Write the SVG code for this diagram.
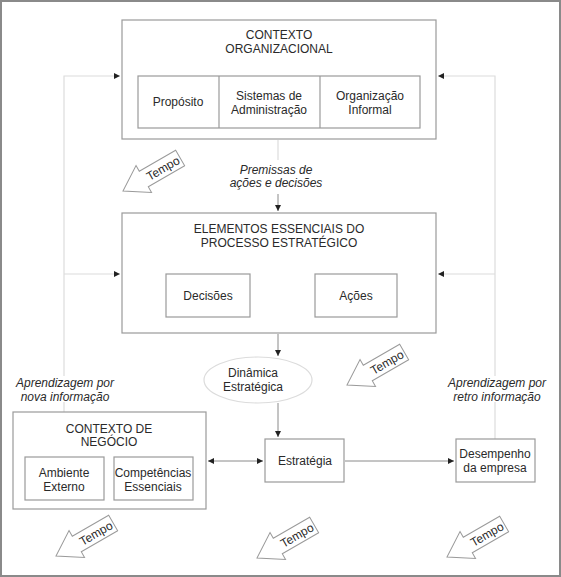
<svg xmlns="http://www.w3.org/2000/svg" width="561" height="577" viewBox="0 0 561 577">
<style>
text{font-family:"Liberation Sans",Arial,sans-serif;font-size:12px;fill:#2a2a2a;text-anchor:middle}
.it{font-style:italic}
.box{fill:#fff;stroke:#9a9a9a;stroke-width:1.2}
.fb{fill:none;stroke:#dcdcdc;stroke-width:1.2}
.cn{fill:none;stroke:#8a8a8a;stroke-width:1}
.tp{fill:#fff;stroke:#9a9a9a;stroke-width:1}
.tt{font-size:12px}
</style>
<defs>
<marker id="ah" markerUnits="userSpaceOnUse" markerWidth="6" markerHeight="6" refX="6" refY="3" orient="auto-start-reverse">
<path d="M0,0 L6,3 L0,6 z" fill="#222"/>
</marker>
<g id="tempo">
<polygon class="tp" points="0,0 24,-15.5 24,-9 66,-9 66,9 24,9 24,15.5"/>
<text class="tt" x="46" y="4.5">Tempo</text>
</g>
</defs>
<rect x="1" y="1" width="559" height="575" fill="#fff" stroke="#8a8a8a" stroke-width="2"/>

<g id="connectors">
<polyline class="fb" points="64,376 64,76 120,76" marker-end="url(#ah)"/>
<line class="fb" x1="64" y1="274" x2="120" y2="274" marker-end="url(#ah)"/>
<line class="fb" x1="64" y1="402" x2="64" y2="412"/>
<polyline class="fb" points="495,376 495,76 438,76" marker-end="url(#ah)"/>
<line class="fb" x1="495" y1="274" x2="438" y2="274" marker-end="url(#ah)"/>
<line class="fb" x1="495" y1="402" x2="495" y2="439"/>
<line class="fb" x1="278" y1="140" x2="278" y2="160"/>
<line class="cn" x1="278" y1="194" x2="278" y2="211" marker-end="url(#ah)"/>
<line class="cn" x1="252" y1="296" x2="313" y2="296" marker-start="url(#ah)" marker-end="url(#ah)"/>
<line class="cn" x1="278" y1="334" x2="278" y2="356" marker-end="url(#ah)"/>
<line class="cn" x1="278" y1="403" x2="278" y2="437" marker-end="url(#ah)"/>
<line class="cn" x1="208" y1="461" x2="263" y2="461" marker-start="url(#ah)" marker-end="url(#ah)"/>
<line class="cn" x1="345" y1="461" x2="454" y2="461" marker-end="url(#ah)"/>
</g>

<g id="contexto-organizacional">
<rect class="box" x="122" y="20" width="314" height="119"/>
<text x="279" y="39">CONTEXTO</text>
<text x="279" y="53">ORGANIZACIONAL</text>
<rect class="box" x="138" y="76" width="282" height="52"/>
<line class="box" x1="219" y1="76" x2="219" y2="128"/>
<line class="box" x1="320" y1="76" x2="320" y2="128"/>
<text x="178" y="106">Propósito</text>
<text x="269" y="100">Sistemas de</text>
<text x="269" y="114">Administração</text>
<text x="370" y="100">Organização</text>
<text x="370" y="114">Informal</text>
</g>

<g id="premissas">
<text class="it" x="276" y="174">Premissas de</text>
<text class="it" x="276" y="187">ações e decisões</text>
</g>

<g id="elementos">
<rect class="box" x="122" y="213" width="314" height="120"/>
<text x="279" y="233">ELEMENTOS ESSENCIAIS DO</text>
<text x="279" y="247">PROCESSO ESTRATÉGICO</text>
</g>
<g id="decisoes">
<rect class="box" x="166" y="274" width="84" height="43"/>
<text x="208" y="300">Decisões</text>
</g>
<g id="acoes">
<rect class="box" x="315" y="274" width="82" height="43"/>
<text x="356" y="300">Ações</text>
</g>

<g id="dinamica">
<ellipse cx="258" cy="380" rx="54" ry="23" fill="#fff" stroke="#dcdcdc" stroke-width="1.2"/>
<text x="253" y="377">Dinâmica</text>
<text x="253" y="391">Estratégica</text>
</g>

<g id="aprendizagem-nova">
<text class="it" x="65" y="387">Aprendizagem por</text>
<text class="it" x="65" y="401">nova informação</text>
</g>
<g id="aprendizagem-retro">
<text class="it" x="497" y="387">Aprendizagem por</text>
<text class="it" x="497" y="401">retro informação</text>
</g>

<g id="contexto-negocio">
<rect class="box" x="13" y="412" width="193" height="97"/>
<text x="109" y="433">CONTEXTO DE</text>
<text x="109" y="446">NEGÓCIO</text>
<rect class="box" x="25" y="457" width="79" height="43"/>
<text x="64" y="477">Ambiente</text>
<text x="64" y="491">Externo</text>
<rect class="box" x="114" y="457" width="79" height="43"/>
<text x="153" y="477">Competências</text>
<text x="153" y="491">Essenciais</text>
</g>

<g id="estrategia">
<rect class="box" x="265" y="439" width="79" height="43"/>
<text x="305" y="465">Estratégia</text>
</g>

<g id="desempenho">
<rect class="box" x="456" y="439" width="79" height="43"/>
<text x="495" y="458">Desempenho</text>
<text x="495" y="472">da empresa</text>
</g>

<g id="tempo-arrows">
<use href="#tempo" transform="translate(123,191) rotate(-30)"/>
<use href="#tempo" transform="translate(347,385) rotate(-30)"/>
<use href="#tempo" transform="translate(56,556) rotate(-30)"/>
<use href="#tempo" transform="translate(257,558) rotate(-30)"/>
<use href="#tempo" transform="translate(447,557) rotate(-30)"/>
</g>
</svg>
